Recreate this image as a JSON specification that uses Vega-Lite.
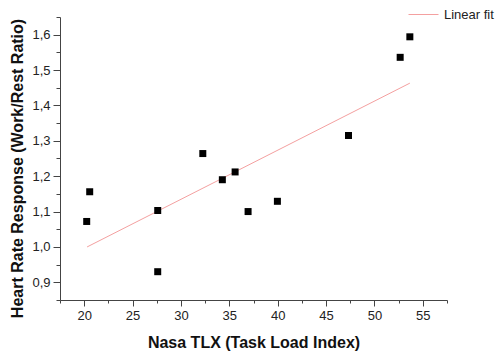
{
  "$schema": "https://vega.github.io/schema/vega-lite/v6.json",
  "width": 387,
  "height": 283,
  "autosize": "none",
  "padding": {"left": 60, "top": 17, "right": 55, "bottom": 54},
  "background": "white",
  "config": {
    "view": {"stroke": null},
    "font": "Liberation Sans",
    "axis": {"grid": false, "domainColor": "#444", "tickColor": "#444", "labelColor": "#222", "labelFont": "Liberation Sans", "labelFontSize": 13, "titleFont": "Liberation Sans", "titleFontSize": 16, "titleFontWeight": "bold", "titleColor": "#111"}
  },
  "datasets": {
    "pts": [
      {"tlx": 20.26, "hr": 1.072},
      {"tlx": 20.57, "hr": 1.156},
      {"tlx": 27.6, "hr": 1.103},
      {"tlx": 27.6, "hr": 0.930},
      {"tlx": 32.26, "hr": 1.264},
      {"tlx": 34.28, "hr": 1.19},
      {"tlx": 35.6, "hr": 1.212},
      {"tlx": 36.94, "hr": 1.10},
      {"tlx": 39.97, "hr": 1.129},
      {"tlx": 47.32, "hr": 1.315},
      {"tlx": 52.66, "hr": 1.536},
      {"tlx": 53.66, "hr": 1.594}
    ],
    "fit": [
      {"tlx": 20.3, "hr": 1.0, "series": "Linear fit"},
      {"tlx": 53.66, "hr": 1.463, "series": "Linear fit"}
    ]
  },
  "layer": [
    {
      "data": {"name": "fit"},
      "mark": {"type": "line", "strokeWidth": 1},
      "encoding": {
        "x": {"field": "tlx", "type": "quantitative", "scale": {"domain": [17.5, 57.5], "nice": false, "zero": false},
          "axis": {"orient": "bottom", "values": [17.5, 22.5, 27.5, 32.5, 37.5, 42.5, 47.5, 52.5, 57.5], "labels": false, "domain": false, "tickSize": 3, "title": null}},
        "y": {"field": "hr", "type": "quantitative", "scale": {"domain": [0.85, 1.65], "nice": false, "zero": false},
          "axis": {"orient": "left", "values": [0.85, 0.95, 1.05, 1.15, 1.25, 1.35, 1.45, 1.55, 1.65], "labels": false, "domain": false, "tickSize": 4, "title": null}},
        "color": {"field": "series", "type": "nominal", "scale": {"range": ["#f4a0a0"]},
          "legend": {"title": null, "orient": "none", "legendX": 348, "legendY": -18, "padding": 0, "symbolType": "stroke", "symbolSize": 900, "symbolStrokeWidth": 1, "labelFontSize": 13, "labelColor": "#222", "labelOffset": 5, "labelFont": "Liberation Sans"}}
      }
    },
    {
      "data": {"name": "pts"},
      "mark": {"type": "point", "shape": "square", "filled": true, "size": 49, "color": "black", "opacity": 1},
      "encoding": {
        "x": {"field": "tlx", "type": "quantitative", "scale": {"domain": [17.5, 57.5], "nice": false, "zero": false},
          "axis": {"orient": "bottom", "values": [20, 25, 30, 35, 40, 45, 50, 55], "tickSize": 6, "labelPadding": 3, "title": "Nasa TLX (Task Load Index)", "titleY": 47.5, "titleBaseline": "alphabetic"}},
        "y": {"field": "hr", "type": "quantitative", "scale": {"domain": [0.85, 1.65], "nice": false, "zero": false},
          "axis": {"orient": "left", "values": [0.9, 1.0, 1.1, 1.2, 1.3, 1.4, 1.5, 1.6], "tickSize": 7, "labelPadding": 3, "labelExpr": "replace(format(datum.value, '.1f'), '.', ',')", "title": "Heart Rate Response (Work/Rest Ratio)", "titleX": -42.5, "titleY": 151, "titleBaseline": "middle", "titleAlign": "center", "titleAngle": 270}}
      }
    }
  ],
  "resolve": {"axis": {"x": "independent", "y": "independent"}}
}
